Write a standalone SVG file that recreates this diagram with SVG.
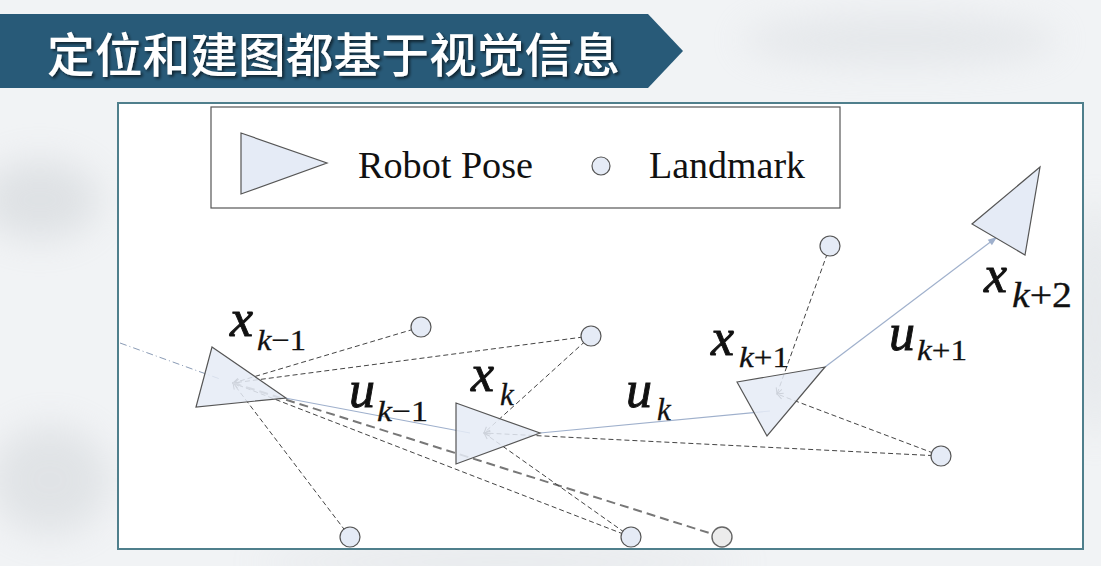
<svg xmlns="http://www.w3.org/2000/svg" width="1101" height="566" viewBox="0 0 1101 566">
<defs>
<filter id="blur" x="-50%" y="-50%" width="200%" height="200%"><feGaussianBlur stdDeviation="18"/></filter>
<filter id="shadow" x="-10%" y="-20%" width="120%" height="150%"><feDropShadow dx="2" dy="2" stdDeviation="1.5" flood-color="#000" flood-opacity="0.6"/></filter>
<marker id="chev" markerUnits="userSpaceOnUse" markerWidth="10" markerHeight="10" viewBox="-8 -5 10 10" refX="0" refY="0" orient="auto">
<path d="M-6,-3 L0,0 L-6,3" fill="none" stroke="#444" stroke-width="1"/>
</marker>
<marker id="blueArrow" markerUnits="userSpaceOnUse" markerWidth="12" markerHeight="10" viewBox="-10 -5 12 10" refX="0" refY="0" orient="auto">
<path d="M-9,-3.5 L0,0 L-9,3.5 Z" fill="#9fb0cc"/>
</marker>
</defs>
<style>
.pose{fill:#e5ebf6;stroke:#555;stroke-width:1.2}
.lm{fill:#e5ebf6;stroke:#555;stroke-width:1.2}
.lmg{fill:#ececec;stroke:#666;stroke-width:1.4}
.obs{fill:none;stroke:#444;stroke-width:1;stroke-dasharray:5 3}
.obs2{fill:none;stroke:#777;stroke-width:2;stroke-dasharray:9 5}
.mot{fill:none;stroke:#9fb0cc;stroke-width:1.2}
.math{font-family:"Liberation Serif","Times New Roman",serif;font-style:italic;fill:#111;stroke:#111;stroke-width:0.9}
.sub{font-family:"Liberation Serif","Times New Roman",serif;fill:#111;stroke:#111;stroke-width:0.3}
.leg{font-family:"Liberation Serif","Times New Roman",serif;font-size:37px;fill:#111}
</style>
<rect x="0" y="0" width="1101" height="566" fill="#f1f3f5"/>
<g filter="url(#blur)" opacity="0.4">
<ellipse cx="40" cy="200" rx="60" ry="40" fill="#c3c8cc"/>
<ellipse cx="50" cy="480" rx="60" ry="55" fill="#c8ccd0"/>
<ellipse cx="900" cy="40" rx="160" ry="25" fill="#d2d6da"/>
<ellipse cx="1095" cy="320" rx="20" ry="120" fill="#cfd4d8"/>
<ellipse cx="500" cy="562" rx="250" ry="10" fill="#c8ccd0"/>
</g>
<g id="banner">
<polygon points="0,14 648,14 683,51 648,88 0,88" fill="#285a78"/>
<text x="47" y="72" font-family="'Noto Sans CJK SC','Noto Sans',sans-serif" font-size="47" font-weight="500" fill="#ffffff" filter="url(#shadow)" textLength="573" lengthAdjust="spacingAndGlyphs">定位和建图都基于视觉信息</text>
</g>
<rect id="frame" x="118" y="103" width="965" height="446" fill="#ffffff" stroke="#4f7f8c" stroke-width="2"/>
<g id="legend">
<rect x="211" y="107" width="629" height="101" fill="#ffffff" stroke="#555" stroke-width="1.2"/>
<polygon class="pose" points="241,133 327,163 241,194"/>
<text class="leg" x="358" y="178" textLength="175" lengthAdjust="spacingAndGlyphs">Robot Pose</text>
<circle class="lm" cx="601" cy="166" r="9"/>
<text class="leg" x="649" y="178" textLength="156" lengthAdjust="spacingAndGlyphs">Landmark</text>
</g>
<g id="connectors">
<line x1="120" y1="343" x2="220" y2="379" stroke="#8a9bb5" stroke-width="1" stroke-dasharray="7 3 1 3"/>
<line class="mot" x1="285" y1="398" x2="470" y2="433"/>
<line class="mot" x1="540" y1="433" x2="770" y2="411"/>
<line class="mot" x1="825" y1="367" x2="997" y2="237" marker-end="url(#blueArrow)"/>
<line class="obs" x1="421" y1="327" x2="233" y2="383" marker-end="url(#chev)"/>
<line class="obs" x1="591" y1="336" x2="233" y2="383" marker-end="url(#chev)"/>
<line class="obs" x1="350" y1="537" x2="233" y2="383" marker-end="url(#chev)"/>
<line class="obs" x1="631" y1="537" x2="233" y2="383" marker-end="url(#chev)"/>
<line class="obs2" x1="722" y1="537" x2="233" y2="383"/>
<line class="obs" x1="591" y1="336" x2="484" y2="433" marker-end="url(#chev)"/>
<line class="obs" x1="631" y1="537" x2="484" y2="433" marker-end="url(#chev)"/>
<line class="obs" x1="941" y1="456" x2="484" y2="433" marker-end="url(#chev)"/>
<line class="obs" x1="830" y1="246" x2="777" y2="394" marker-end="url(#chev)"/>
<line class="obs" x1="941" y1="456" x2="777" y2="394" marker-end="url(#chev)"/>
</g>
<g id="pose-xk-1"><polygon class="pose" points="212,347 286,398 196,407" fill-opacity="0.85"/></g>
<g id="pose-xk"><polygon class="pose" points="456,403 540,433 456,464" fill-opacity="0.85"/></g>
<g id="pose-xk1"><polygon class="pose" points="737,382 825,367 767,436" fill-opacity="0.85"/></g>
<g id="pose-xk2"><polygon class="pose" points="1040,167 972,224 1025,255"/></g>
<g id="lm1"><circle class="lm" cx="421" cy="327" r="10"/></g>
<g id="lm2"><circle class="lm" cx="591" cy="336" r="10"/></g>
<g id="lm3"><circle class="lm" cx="830" cy="246" r="10"/></g>
<g id="lm4"><circle class="lm" cx="941" cy="456" r="10"/></g>
<g id="lm5"><circle class="lm" cx="350" cy="537" r="10"/></g>
<g id="lm6"><circle class="lm" cx="631" cy="537" r="10"/></g>
<g id="lm7"><circle class="lmg" cx="722" cy="537" r="10"/></g>
<g id="labels">
<text class="math" x="230" y="336" font-size="52">x</text>
<text class="sub" x="257" y="350" font-size="30" textLength="49" lengthAdjust="spacingAndGlyphs"><tspan font-style="italic">k</tspan>−1</text>
<text class="math" x="349" y="407" font-size="52">u</text>
<text class="sub" x="377" y="421" font-size="30" textLength="51" lengthAdjust="spacingAndGlyphs"><tspan font-style="italic">k</tspan>−1</text>
<text class="math" x="471" y="391" font-size="52">x</text>
<text class="sub" x="500" y="405" font-size="31" font-style="italic">k</text>
<text class="math" x="626" y="407" font-size="52">u</text>
<text class="sub" x="657" y="420" font-size="31" font-style="italic">k</text>
<text class="math" x="711" y="355" font-size="52">x</text>
<text class="sub" x="739" y="367" font-size="30" textLength="50" lengthAdjust="spacingAndGlyphs"><tspan font-style="italic">k</tspan>+1</text>
<text class="math" x="889" y="350" font-size="52">u</text>
<text class="sub" x="917" y="360" font-size="30" textLength="50" lengthAdjust="spacingAndGlyphs"><tspan font-style="italic">k</tspan>+1</text>
<text class="math" x="984" y="292" font-size="52">x</text>
<text class="sub" x="1012" y="307" font-size="35" textLength="60" lengthAdjust="spacingAndGlyphs"><tspan font-style="italic">k</tspan>+2</text>
</g>
</svg>
